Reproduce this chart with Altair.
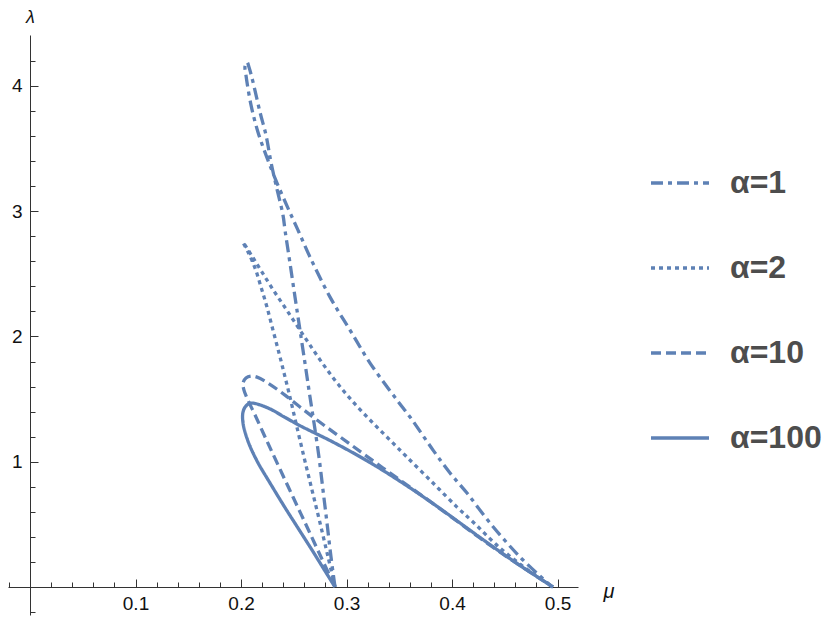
import altair as alt
import pandas as pd

# ---------------- data ----------------
series = ["α=1", "α=2", "α=10", "α=100"]

mu_a1 = [0.2891, 0.2853, 0.2815, 0.2777, 0.2739, 0.2692, 0.2654, 0.2616, 0.2559,
         0.2512, 0.2464, 0.2417, 0.2398, 0.2332, 0.2284, 0.2237, 0.2180, 0.2114,
         0.2076, 0.2057, 0.2038, 0.2047, 0.2095, 0.2161, 0.2237, 0.2322, 0.2445,
         0.2540, 0.2654, 0.2844, 0.3033, 0.3223, 0.3479, 0.3602, 0.3820, 0.3981,
         0.4142, 0.4360, 0.4645, 0.4948]
lam_a1 = [0.0, 0.239, 0.511, 0.774, 1.037, 1.309, 1.516, 1.732, 2.051,
          2.314, 2.586, 2.849, 2.969, 3.208, 3.392, 3.607, 3.791, 4.030,
          4.150, 4.190, 4.158, 4.086, 3.847, 3.631, 3.448, 3.264, 3.025,
          2.849, 2.634, 2.314, 2.051, 1.788, 1.492, 1.357, 1.093, 0.910,
          0.750, 0.511, 0.239, 0.0]

mu_a2 = [0.2891, 0.2825, 0.2749, 0.2673, 0.2597, 0.2521, 0.2455, 0.2408, 0.2360,
         0.2303, 0.2246, 0.2190, 0.2133, 0.2076, 0.2019, 0.2104, 0.2199, 0.2313,
         0.2427, 0.2540, 0.2654, 0.2777, 0.2919, 0.3081, 0.3251, 0.3412, 0.3573,
         0.3820, 0.4047, 0.4199, 0.4455, 0.4720, 0.4957]
lam_a2 = [0.0, 0.239, 0.511, 0.774, 1.037, 1.309, 1.548, 1.708, 1.868,
          2.051, 2.235, 2.394, 2.546, 2.658, 2.753, 2.642, 2.514, 2.362,
          2.219, 2.075, 1.931, 1.780, 1.620, 1.460, 1.309, 1.173, 1.037,
          0.830, 0.638, 0.519, 0.311, 0.136, 0.0]

mu_a10 = [0.2891, 0.2758, 0.2626, 0.2493, 0.2360, 0.2237, 0.2133, 0.2066, 0.2028,
          0.2019, 0.2047, 0.2095, 0.2152, 0.2256, 0.2417, 0.2559, 0.2720, 0.3033,
          0.3346, 0.3668, 0.3981, 0.4265, 0.4578, 0.4957]
lam_a10 = [0.0, 0.239, 0.479, 0.718, 0.958, 1.181, 1.373, 1.492, 1.572,
           1.628, 1.668, 1.684, 1.676, 1.628, 1.532, 1.437, 1.333, 1.141,
           0.950, 0.758, 0.567, 0.391, 0.208, 0.0]

mu_a100 = [0.2891, 0.2796, 0.2673, 0.2540, 0.2408, 0.2275, 0.2152, 0.2066, 0.2019,
           0.2019, 0.2047, 0.2095, 0.2256, 0.2417, 0.2559, 0.2872, 0.3194, 0.3507,
           0.3820, 0.4076, 0.4360, 0.4645, 0.4957]
lam_a100 = [0.0, 0.128, 0.295, 0.471, 0.646, 0.830, 1.006, 1.165, 1.309,
            1.397, 1.445, 1.468, 1.429, 1.354, 1.288, 1.157, 1.008, 0.844,
            0.666, 0.511, 0.338, 0.171, 0.0]

x_labels = [0.1, 0.2, 0.3, 0.4, 0.5]
y_labels = [1, 2, 3, 4]
x_ticks = [-0.02, 0.02, 0.04, 0.06, 0.08, 0.1, 0.12, 0.14, 0.16, 0.18, 0.2,
           0.22, 0.24, 0.26, 0.28, 0.3, 0.32, 0.34, 0.36, 0.38, 0.4,
           0.42, 0.44, 0.46, 0.48, 0.5, 0.52]
y_ticks = [-0.2, 0.2, 0.4, 0.6, 0.8, 1.0, 1.2, 1.4, 1.6, 1.8, 2.0, 2.2, 2.4,
           2.6, 2.8, 3.0, 3.2, 3.4, 3.6, 3.8, 4.0, 4.2]

rows = []
for name, mus, lams in [(series[0], mu_a1, lam_a1), (series[1], mu_a2, lam_a2),
                        (series[2], mu_a10, lam_a10), (series[3], mu_a100, lam_a100)]:
    for i, (m, l) in enumerate(zip(mus, lams)):
        rows.append({"series": name, "mu": m, "lam": l, "i": i})
df = pd.DataFrame(rows)

# ---------------- styling ----------------
FONT = "Liberation Sans"
AX = "#333333"
BLUE = "#5E81B5"
W, H = 570, 580
x_domain = [-0.02085, 0.5194]
y_domain = [-0.2236, 4.407]

xs = alt.Scale(domain=x_domain, nice=False, zero=False)
ys = alt.Scale(domain=y_domain, nice=False, zero=False)

x_label_axis = alt.Axis(
    orient="bottom", offset=-28, values=x_labels, format=".1f", ticks=False,
    domain=True, domainColor=AX, domainWidth=1, grid=False,
    labelFont=FONT, labelFontSize=19, labelColor="#111111", labelPadding=7,
    labelFlush=False, labelOverlap=False,
    title="μ", titleFont=FONT, titleFontSize=20, titleFontStyle="italic",
    titleFontWeight="normal", titleColor="#111111", titleAngle=0,
    titleAlign="left", titleBaseline="middle", titleX=595, titleY=4,
)
y_label_axis = alt.Axis(
    orient="left", offset=-22, values=y_labels, format="d", ticks=False,
    domain=True, domainColor=AX, domainWidth=1, grid=False,
    labelFont=FONT, labelFontSize=19, labelColor="#111111", labelPadding=8,
    labelFlush=False, labelOverlap=False,
    title="λ", titleFont=FONT, titleFontSize=18, titleFontStyle="italic",
    titleFontWeight="normal", titleColor="#111111", titleAngle=0,
    titleAlign="center", titleBaseline="top", titleX=0, titleY=-27,
)
x_tick_axis = alt.Axis(
    orient="top", offset=-552, values=x_ticks, labels=False, domain=False,
    grid=False, ticks=True, tickColor=AX, tickWidth=1,
    tickSize={"condition": {"test": "abs(datum.value*10 - round(datum.value*10)) < 0.001",
                            "value": 8}, "value": 5},
    title=None,
)
y_tick_axis = alt.Axis(
    orient="right", offset=-(W - 22), values=y_ticks, labels=False, domain=False,
    grid=False, ticks=True, tickColor=AX, tickWidth=1,
    tickSize={"condition": {"test": "abs(datum.value - round(datum.value)) < 0.001",
                            "value": 8}, "value": 5},
    title=None,
)

curves = alt.Chart(df).mark_line(
    color=BLUE, strokeWidth=3.3, interpolate="catmull-rom"
).encode(
    x=alt.X("mu:Q", scale=xs, axis=x_label_axis),
    y=alt.Y("lam:Q", scale=ys, axis=y_label_axis),
    strokeDash=alt.StrokeDash(
        "series:N",
        scale=alt.Scale(domain=series, range=[[12, 5, 4, 5], [4, 4], [10, 5], [1, 0]]),
        legend=alt.Legend(
            title=None, orient="none", legendX=641, legendY=117, padding=0,
            symbolType="stroke", symbolSize=3364, symbolStrokeWidth=3.3,
            symbolStrokeColor=BLUE, labelFont=FONT, labelFontSize=32,
            labelFontWeight="bold", labelColor="#4d4d4d", labelOffset=19,
            rowPadding=38, labelLimit=300,
        ),
    ),
    detail="series:N",
    order="i:Q",
)

ticks_layer = alt.Chart(df).mark_point(opacity=0).encode(
    x=alt.X("mu:Q", scale=xs, axis=x_tick_axis),
    y=alt.Y("lam:Q", scale=ys, axis=y_tick_axis),
)

chart = alt.layer(curves, ticks_layer).resolve_axis(
    x="independent", y="independent"
).properties(
    width=W, height=H,
    autosize=alt.AutoSizeParams(type="none"),
    padding={"left": 0, "top": 27, "right": 244, "bottom": 4},
).configure_view(stroke=None)

chart.save("out.html", embed_options={"renderer": "svg", "actions": False})
